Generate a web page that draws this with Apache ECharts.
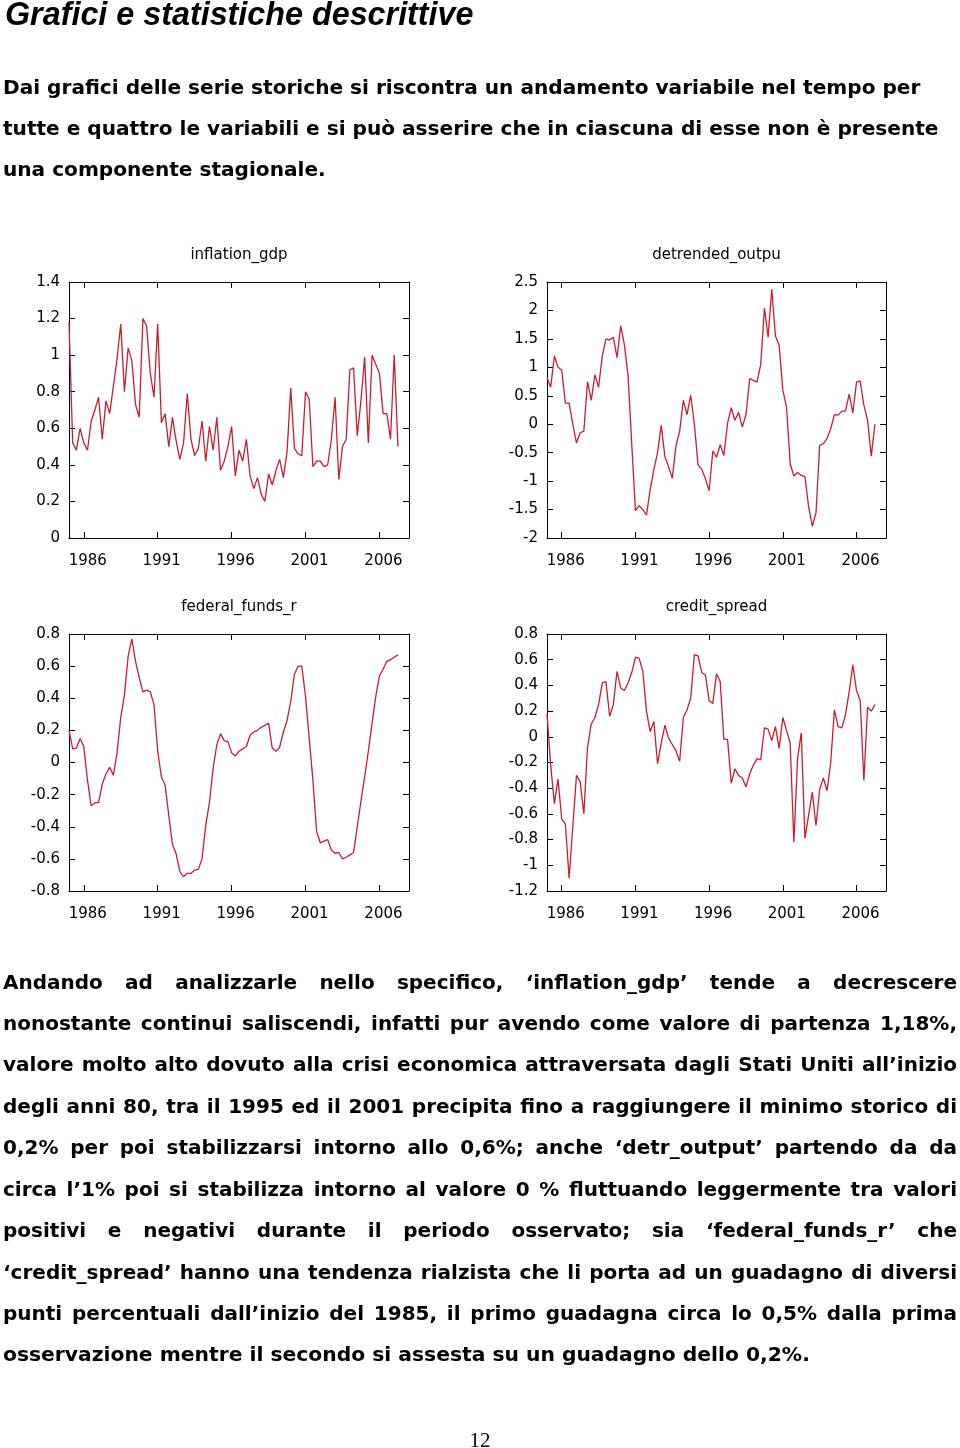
<!DOCTYPE html>
<html>
<head>
<meta charset="utf-8">
<script src="https://cdn.jsdelivr.net/npm/echarts@6/dist/echarts.min.js"></script>
<style>
  html, body { margin: 0; padding: 0; background: #fff; }
  #page { position: relative; width: 960px; height: 1448px; overflow: hidden; background: #fff; }
  #chart { position: absolute; left: 0; top: 0; width: 960px; height: 1448px; }
  .title { position: absolute; left: 5px; top: -4px; font-family: "Liberation Sans", Arial, sans-serif; font-weight: bold; font-style: italic; font-size: 32.3px; line-height: 36px; color: #000; white-space: nowrap; }
  .ln { position: absolute; left: 3px; width: 954px; font-family: "DejaVu Sans", Verdana, sans-serif; font-weight: bold; font-size: 20.1px; line-height: 41px; color: #000; white-space: nowrap; }
  .just { text-align: justify; text-align-last: justify; font-size: 20px; }
  .last { font-size: 20.3px; }
  .pnum { position: absolute; left: 0; width: 960px; top: 1428px; text-align: center; font-family: "Liberation Serif", "Times New Roman", serif; font-size: 21px; line-height: 24px; color: #000; }
</style>
</head>
<body>
<div id="page">
  <div id="chart"></div>
  <div class="title">Grafici e statistiche descrittive</div>
  <div class="ln" style="top:67px">Dai grafici delle serie storiche si riscontra un andamento variabile nel tempo per</div>
  <div class="ln" style="top:108px">tutte e quattro le variabili e si può asserire che in ciascuna di esse non è presente</div>
  <div class="ln" style="top:149px">una componente stagionale.</div>

  <div class="ln just" style="top:962px">Andando ad analizzarle nello specifico, ‘inflation_gdp’ tende a decrescere</div>
  <div class="ln just" style="top:1003px">nonostante continui saliscendi, infatti pur avendo come valore di partenza 1,18%,</div>
  <div class="ln just" style="top:1044px">valore molto alto dovuto alla crisi economica attraversata dagli Stati Uniti all’inizio</div>
  <div class="ln just" style="top:1086px">degli anni 80, tra il 1995 ed il 2001 precipita fino a raggiungere il minimo storico di</div>
  <div class="ln just" style="top:1127px">0,2% per poi stabilizzarsi intorno allo 0,6%; anche ‘detr_output’ partendo da da</div>
  <div class="ln just" style="top:1169px">circa l’1% poi si stabilizza intorno al valore 0 % fluttuando leggermente tra valori</div>
  <div class="ln just" style="top:1210px">positivi e negativi durante il periodo osservato; sia ‘federal_funds_r’ che</div>
  <div class="ln just" style="top:1252px">‘credit_spread’ hanno una tendenza rialzista che li porta ad un guadagno di diversi</div>
  <div class="ln just" style="top:1293px">punti percentuali dall’inizio del 1985, il primo guadagna circa lo 0,5% dalla prima</div>
  <div class="ln last" style="top:1334px">osservazione mentre il secondo si assesta su un guadagno dello 0,2%.</div>

  <div class="pnum">12</div>
</div>
<script>
// ---- data (quarterly, 1985:1 .. 2007:2) ----
const startYear = 1985;
const yearTicks = [1986, 1991, 1996, 2001, 2006];

const inflationGdp = [
  1.18, 0.52, 0.48, 0.60, 0.52, 0.48, 0.64, 0.70, 0.77, 0.54,
  0.75, 0.68, 0.83, 0.98, 1.17, 0.80, 1.04, 0.97, 0.73, 0.66,
  1.20, 1.16, 0.90, 0.77, 1.17, 0.63, 0.68, 0.50, 0.66, 0.53,
  0.43, 0.52, 0.79, 0.54, 0.45, 0.49, 0.64, 0.42, 0.61, 0.48,
  0.66, 0.37, 0.42, 0.50, 0.61, 0.34, 0.48, 0.42, 0.54, 0.34,
  0.27, 0.33, 0.24, 0.20, 0.35, 0.29, 0.37, 0.43, 0.33, 0.47,
  0.82, 0.49, 0.46, 0.45, 0.80, 0.76, 0.39, 0.42, 0.42, 0.39,
  0.40, 0.54, 0.77, 0.32, 0.50, 0.54, 0.92, 0.93, 0.56, 0.75,
  0.99, 0.52, 1.00, 0.95, 0.90, 0.68, 0.68, 0.54, 1.00, 0.50
];

const detrendedOutput = [
  0.82, 0.65, 1.20, 1.00, 0.95, 0.37, 0.37, 0.00, -0.33, -0.15,
  -0.12, 0.75, 0.42, 0.87, 0.65, 1.20, 1.50, 1.48, 1.53, 1.17,
  1.73, 1.40, 0.85, -0.35, -1.52, -1.43, -1.50, -1.60, -1.15, -0.80,
  -0.50, -0.02, -0.57, -0.75, -0.95, -0.38, -0.12, 0.42, 0.17, 0.51,
  0.00, -0.72, -0.79, -0.96, -1.17, -0.47, -0.58, -0.36, -0.55, 0.02,
  0.29, 0.07, 0.21, -0.05, 0.17, 0.80, 0.77, 0.74, 1.05, 2.04,
  1.53, 2.37, 1.55, 1.39, 0.60, 0.30, -0.70, -0.91, -0.85, -0.90,
  -0.92, -1.45, -1.79, -1.56, -0.37, -0.34, -0.25, -0.08, 0.17, 0.16,
  0.23, 0.23, 0.53, 0.20, 0.74, 0.76, 0.33, 0.07, -0.56, 0.00
];

const federalFundsR = [
  0.20, 0.085, 0.09, 0.15, 0.10, -0.11, -0.27, -0.25, -0.25, -0.135,
  -0.07, -0.03, -0.08, 0.06, 0.28, 0.42, 0.66, 0.77, 0.63, 0.53,
  0.44, 0.45, 0.44, 0.36, 0.07, -0.09, -0.14, -0.33, -0.51, -0.57,
  -0.68, -0.71, -0.69, -0.69, -0.67, -0.665, -0.60, -0.39, -0.25, -0.035,
  0.11, 0.18, 0.135, 0.13, 0.06, 0.04, 0.07, 0.085, 0.10, 0.17,
  0.19, 0.20, 0.22, 0.23, 0.245, 0.09, 0.07, 0.095, 0.19, 0.26,
  0.38, 0.55, 0.60, 0.60, 0.41, 0.15, -0.11, -0.43, -0.50, -0.49,
  -0.48, -0.545, -0.565, -0.56, -0.60, -0.59, -0.575, -0.56, -0.40, -0.24,
  -0.09, 0.07, 0.245, 0.41, 0.54, 0.58, 0.63, 0.64, 0.655, 0.67
];

const creditSpread = [
  0.18, -0.22, -0.52, -0.33, -0.64, -0.68, -1.10, -0.70, -0.30, -0.35,
  -0.60, -0.08, 0.10, 0.15, 0.25, 0.42, 0.43, 0.16, 0.25, 0.51,
  0.38, 0.36, 0.42, 0.50, 0.62, 0.61, 0.51, 0.20, 0.04, 0.12,
  -0.21, -0.05, 0.09, -0.01, -0.06, -0.11, -0.19, 0.15, 0.21, 0.30,
  0.64, 0.63, 0.50, 0.48, 0.28, 0.26, 0.49, 0.43, -0.02, -0.02,
  -0.36, -0.25, -0.30, -0.32, -0.39, -0.29, -0.22, -0.17, -0.18, 0.07,
  0.06, -0.03, 0.08, -0.09, 0.15, 0.05, -0.05, -0.82, -0.17, 0.03,
  -0.79, -0.61, -0.43, -0.69, -0.41, -0.32, -0.42, -0.20, 0.21, 0.08,
  0.07, 0.17, 0.35, 0.56, 0.36, 0.28, -0.34, 0.23, 0.20, 0.25
];

// ---- panels ----
const panels = [
  { name: 'inflation_gdp',   data: inflationGdp,    yMin: 0,    yMax: 1.4, step: 0.2, left: 69,  top: 282, width: 340, height: 256 },
  { name: 'detrended_outpu', data: detrendedOutput, yMin: -2,   yMax: 2.5, step: 0.5, left: 547, top: 282, width: 339, height: 256 },
  { name: 'federal_funds_r', data: federalFundsR,   yMin: -0.8, yMax: 0.8, step: 0.2, left: 69,  top: 634, width: 340, height: 257 },
  { name: 'credit_spread',   data: creditSpread,    yMin: -1.2, yMax: 0.8, step: 0.2, left: 547, top: 634, width: 339, height: 257 }
];

const FONT = '"DejaVu Sans", Verdana, sans-serif';
const LINE_COLOR = '#c81e2c';
const axisLine = { show: true, onZero: false, lineStyle: { color: '#000', width: 1 } };
const tick = { show: true, inside: true, length: 6, lineStyle: { color: '#000', width: 1 } };

const grid = [], xAxis = [], yAxis = [], series = [], graphic = [];
panels.forEach((p, k) => {
  grid.push({ left: p.left, top: p.top, width: p.width, height: p.height, show: false });
  xAxis.push({
    type: 'value', gridIndex: k, position: 'bottom', min: startYear, max: 2008,
    axisLine: axisLine,
    axisTick: Object.assign({}, tick, { customValues: yearTicks }),
    axisLabel: { show: true, customValues: yearTicks, formatter: v => String(v), color: '#000', fontFamily: FONT, fontSize: 15, margin: 16, padding: [0, 0, 0, 8] },
    splitLine: { show: false }
  });
  xAxis.push({
    type: 'value', gridIndex: k, position: 'top', min: startYear, max: 2008,
    axisLine: axisLine,
    axisTick: Object.assign({}, tick, { customValues: yearTicks }),
    axisLabel: { show: false },
    splitLine: { show: false }
  });
  yAxis.push({
    type: 'value', gridIndex: k, position: 'left', min: p.yMin, max: p.yMax, interval: p.step,
    axisLine: axisLine, axisTick: tick,
    axisLabel: { color: '#000', fontFamily: FONT, fontSize: 15, margin: 9, padding: [10, 0, 0, 0] },
    splitLine: { show: false }
  });
  yAxis.push({
    type: 'value', gridIndex: k, position: 'right', min: p.yMin, max: p.yMax, interval: p.step,
    axisLine: axisLine, axisTick: tick, axisLabel: { show: false },
    splitLine: { show: false }
  });
  series.push({
    type: 'line', xAxisIndex: 2 * k, yAxisIndex: 2 * k,
    data: p.data.map((v, i) => [startYear + i / 4, v]),
    showSymbol: false, symbol: 'none',
    lineStyle: { color: LINE_COLOR, width: 1.3 },
    itemStyle: { color: LINE_COLOR },
    animation: false
  });
  graphic.push({
    type: 'text', x: p.left + p.width / 2, y: p.top - 27,
    style: { text: p.name, font: '15px ' + FONT, fill: '#000', textAlign: 'center', textVerticalAlign: 'middle' }
  });
});

const chart = echarts.init(document.getElementById('chart'), null, { renderer: 'canvas' });
chart.setOption({
  backgroundColor: 'transparent',
  animation: false,
  grid, xAxis, yAxis, series, graphic
});
</script>
</body>
</html>
